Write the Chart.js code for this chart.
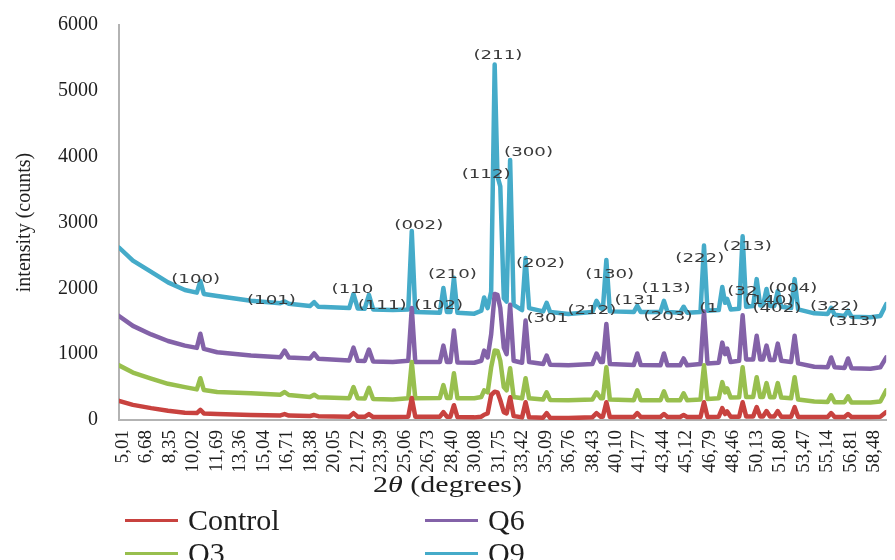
<!DOCTYPE html>
<html>
<head>
<meta charset="utf-8">
<script src="https://cdn.jsdelivr.net/npm/chart.js@4.4.1/dist/chart.umd.min.js"></script>
<style>
  html, body { margin: 0; padding: 0; background: #fff; }
  #wrap { position: relative; width: 895px; height: 560px; overflow: hidden; }
  #c { position: absolute; left: 0; top: 0; }
  .key { position: absolute; font-family: "Liberation Serif", "Times New Roman", serif; font-size: 30px; line-height: 30px; color: #1e1e1e; white-space: nowrap; }
  .swatch { position: absolute; width: 53px; height: 3px; }
</style>
</head>
<body>
<div id="wrap">
  <canvas id="c" width="895" height="560"></canvas>
  <div id="legend"></div>
</div>
<script>
// 2θ positions (degrees) shared by all four scans
const twoTheta = [
  5.01, 6.0, 7.3, 8.5, 9.7, 10.55, 10.8, 11.05, 12.0, 14.4,
  16.5, 16.8, 17.1, 18.6, 18.9, 19.2, 21.4, 21.7, 22.0, 22.5,
  22.8, 23.1, 24.5, 25.6, 25.85, 26.1, 27.85, 28.1, 28.35, 28.6,
  28.85, 29.1, 30.3, 30.8, 31.0, 31.25, 31.5, 31.75, 31.95, 32.15,
  32.4, 32.6, 32.85, 33.1, 33.7, 33.95, 34.2, 35.2, 35.45, 35.7,
  37.0, 38.7, 39.0, 39.3, 39.45, 39.7, 39.95, 41.65, 41.9, 42.15,
  43.55, 43.8, 44.05, 44.95, 45.2, 45.45, 46.4, 46.65, 46.9, 47.7,
  47.95, 48.15, 48.3, 48.55, 49.15, 49.4, 49.65, 50.15, 50.4, 50.65,
  50.85, 51.1, 51.35, 51.65, 51.9, 52.15, 52.85, 53.1, 53.35, 54.5,
  55.45, 55.7, 55.95, 56.65, 56.9, 57.15, 58.5, 59.2, 59.62
];

// intensity (counts) for each sample at the positions above
const control = [
  290, 230, 180, 140, 110, 105, 155, 100, 90, 75,
  70, 90, 68, 60, 75, 58, 50, 105, 50, 48,
  90, 45, 45, 50, 335, 50, 50, 120, 50, 50,
  225, 45, 40, 50, 80, 100, 380, 430, 420, 300,
  120, 100, 345, 60, 40, 270, 40, 35, 105, 33,
  30, 40, 105, 50, 50, 270, 45, 45, 105, 45,
  45, 90, 45, 45, 75, 45, 45, 270, 45, 50,
  180, 90, 130, 50, 50, 270, 55, 55, 195, 55,
  55, 135, 55, 55, 135, 50, 50, 195, 45, 45,
  45, 105, 45, 45, 90, 45, 45, 50, 120
];
const q3 = [
  830, 720, 630, 550, 500, 465, 635, 455, 425, 405,
  385, 425, 380, 350, 385, 345, 330, 500, 330, 325,
  490, 320, 310, 330, 880, 330, 335, 530, 335, 335,
  710, 330, 330, 350, 450, 420, 800, 1055, 1050, 900,
  500, 450, 785, 350, 330, 635, 330, 310, 420, 305,
  300, 310, 420, 330, 330, 800, 310, 300, 450, 300,
  300, 435, 300, 300, 405, 300, 310, 830, 320, 330,
  575, 420, 480, 340, 345, 800, 350, 350, 650, 350,
  350, 560, 345, 345, 560, 340, 330, 650, 310, 280,
  275, 375, 270, 270, 360, 265, 265, 280, 450
];
const q6 = [
  1580, 1430, 1300, 1200, 1130, 1095, 1310, 1080, 1030, 980,
  955, 1055, 950, 935, 1010, 930, 905, 1100, 900, 895,
  1070, 890, 880, 900, 1700, 880, 880, 1130, 880, 880,
  1360, 875, 870, 900, 1055, 950, 1300, 1915, 1900, 1700,
  1100, 1000, 1750, 900, 870, 1510, 880, 850, 980, 840,
  830, 850, 1010, 880, 880, 1460, 850, 835, 1010, 835,
  830, 1010, 830, 830, 935, 830, 850, 1650, 860, 870,
  1175, 1000, 1085, 880, 900, 1590, 920, 920, 1280, 920,
  920, 1130, 910, 910, 1160, 900, 880, 1280, 860, 810,
  800, 950, 800, 790, 935, 785, 780, 800, 950
];
const q9 = [
  2620, 2420, 2250, 2090, 1975, 1935, 2110, 1915, 1885, 1810,
  1775, 1800, 1765, 1730, 1790, 1720, 1700, 1915, 1695, 1690,
  1900, 1680, 1670, 1680, 2870, 1640, 1630, 2005, 1640, 1640,
  2160, 1630, 1615, 1660, 1860, 1700, 1950, 5400, 3700, 3550,
  1850, 1800, 3950, 1750, 1670, 2460, 1700, 1650, 1780, 1640,
  1610, 1640, 1810, 1700, 1680, 2430, 1650, 1640, 1735, 1640,
  1640, 1810, 1640, 1630, 1720, 1630, 1640, 2650, 1660, 1670,
  2020, 1780, 1840, 1680, 1690, 2790, 1720, 1730, 2140, 1740,
  1740, 1990, 1730, 1730, 1960, 1720, 1700, 2140, 1680, 1620,
  1610, 1705, 1600, 1580, 1660, 1570, 1560, 1580, 1760
];

// category labels printed under the 2θ axis
const tickLabels = [
  '5,01', '6,68', '8,35', '10,02', '11,69', '13,36', '15,04', '16,71', '18,38',
  '20,05', '21,72', '23,39', '25,06', '26,73', '28,40', '30,08', '31,75', '33,42',
  '35,09', '36,76', '38,43', '40,10', '41,77', '43,44', '45,12', '46,79', '48,46',
  '50,13', '51,80', '53,47', '55,14', '56,81', '58,48'
];
const tickValues = tickLabels.map(s => parseFloat(s.replace(',', '.')));

// Miller indices written next to the reflections, anchored at (2θ, counts)
const reflections = [
  { hkl: '(100)', at: [10.47, 2126] },
  { hkl: '(101)', at: [15.86, 1810] },
  { hkl: '(110', at: [21.63, 1975] },
  { hkl: '(111)', at: [23.74, 1734] },
  { hkl: '(002)', at: [26.35, 2956] },
  { hkl: '(102)', at: [27.76, 1734] },
  { hkl: '(210)', at: [28.74, 2209] },
  { hkl: '(211)', at: [31.98, 5540] },
  { hkl: '(112)', at: [31.14, 3732] },
  { hkl: '(300)', at: [34.16, 4057] },
  { hkl: '(202)', at: [35.01, 2375] },
  { hkl: '(301', at: [35.50, 1538] },
  { hkl: '(212)', at: [38.67, 1666] },
  { hkl: '(130)', at: [39.94, 2202] },
  { hkl: '(131', at: [41.77, 1817] },
  { hkl: '(113)', at: [43.95, 1998] },
  { hkl: '(203)', at: [44.09, 1576] },
  { hkl: '(222)', at: [46.35, 2458] },
  { hkl: '(1', at: [46.98, 1697] },
  { hkl: '(213)', at: [49.73, 2639] },
  { hkl: '(32', at: [49.38, 1945] },
  { hkl: '(140)', at: [51.28, 1810] },
  { hkl: '(402)', at: [51.84, 1689] },
  { hkl: '(004)', at: [52.97, 1998] },
  { hkl: '(322)', at: [55.93, 1719] },
  { hkl: '(313)', at: [57.26, 1493] }
];

const seriesNames = ['Control', 'Q3', 'Q6', 'Q9'];
const seriesValues = [control, q3, q6, q9];
const seriesColors = ['#c8423f', '#98bf4e', '#8362a8', '#45abc9'];

const SERIF = '"Liberation Serif", "Times New Roman", serif';

const datasets = seriesNames.map((name, i) => ({
  label: name,
  data: twoTheta.map((x, j) => ({ x: x, y: seriesValues[i][j] })),
  borderColor: seriesColors[i],
  backgroundColor: seriesColors[i],
  borderWidth: 4.5,
  borderJoinStyle: 'round',
  borderCapStyle: 'round',
  pointRadius: 0,
  tension: 0,
  fill: false
}));

// Miller-index labels and the 2θ axis caption (italic θ)
const textLayer = {
  id: 'textLayer',
  afterDatasetsDraw(chart) {
    const { ctx, scales: { x, y } } = chart;
    ctx.save();
    ctx.fillStyle = '#3a3a3a';
    ctx.font = '13px "DejaVu Sans", sans-serif';
    ctx.textAlign = 'center';
    ctx.textBaseline = 'middle';
    reflections.forEach(r => {
      const px = x.getPixelForValue(r.at[0]);
      const py = y.getPixelForValue(r.at[1]);
      ctx.save();
      ctx.translate(px, py);
      ctx.scale(1.4, 1);
      ctx.fillText(r.hkl, 0, 0);
      ctx.restore();
    });
    ctx.restore();
  },
  afterDraw(chart) {
    const ctx = chart.ctx;
    const parts = [['2', 'normal'], ['θ', 'italic'], [' (degrees)', 'normal']];
    const stretch = 1.25;
    ctx.save();
    ctx.fillStyle = '#1e1e1e';
    ctx.textBaseline = 'alphabetic';
    ctx.textAlign = 'left';
    let total = 0;
    const widths = parts.map(p => {
      ctx.font = p[1] + ' 24px ' + SERIF;
      const w = ctx.measureText(p[0]).width;
      total += w;
      return w;
    });
    ctx.translate(chart.width / 2 - total * stretch / 2, 492);
    ctx.scale(stretch, 1);
    let cx = 0;
    parts.forEach((p, i) => {
      ctx.font = p[1] + ' 24px ' + SERIF;
      ctx.fillText(p[0], cx, 0);
      cx += widths[i];
    });
    ctx.restore();
  }
};

new Chart(document.getElementById('c'), {
  type: 'line',
  data: { datasets: datasets },
  options: {
    responsive: false,
    animation: false,
    events: [],
    layout: { padding: { top: 22, right: 0, bottom: 0, left: 0 } },
    plugins: { legend: { display: false }, tooltip: { enabled: false } },
    scales: {
      x: {
        type: 'linear',
        min: 5.01,
        max: 59.62,
        grid: { display: false },
        border: { display: true, color: '#b3b3b3', width: 2 },
        afterBuildTicks(scale) { scale.ticks = tickValues.map(v => ({ value: v })); },
        afterFit(scale) { scale.height = 140; },
        ticks: {
          autoSkip: false,
          minRotation: 90,
          maxRotation: 90,
          padding: 2,
          labelOffset: 4,
          color: '#1e1e1e',
          font: { family: SERIF, size: 19 },
          callback: (v, i) => tickLabels[i]
        }
      },
      y: {
        min: 0,
        max: 6000,
        grid: { display: false },
        border: { display: true, color: '#b3b3b3', width: 2 },
        afterFit(scale) { scale.width = 119; },
        ticks: {
          stepSize: 1000,
          padding: 13,
          color: '#1e1e1e',
          font: { family: SERIF, size: 20 },
          callback: v => String(v)
        },
        title: {
          display: true,
          text: 'intensity (counts)',
          color: '#1e1e1e',
          font: { family: SERIF, size: 20 },
          padding: { top: 13, bottom: 0 }
        }
      }
    }
  },
  plugins: [textLayer]
});

// two-column key under the chart
const keySlots = { Control: [125, 520], Q6: [425, 520], Q3: [125, 553], Q9: [425, 553] };
const legend = document.getElementById('legend');
seriesNames.forEach((name, i) => {
  const [lx, ly] = keySlots[name];
  const sw = document.createElement('div');
  sw.className = 'swatch';
  sw.style.left = lx + 'px';
  sw.style.top = (ly - 1.5) + 'px';
  sw.style.background = seriesColors[i];
  legend.appendChild(sw);
  const tx = document.createElement('div');
  tx.className = 'key';
  tx.style.left = (lx + 63) + 'px';
  tx.style.top = (ly - 15) + 'px';
  tx.textContent = name;
  legend.appendChild(tx);
});
</script>
</body>
</html>
